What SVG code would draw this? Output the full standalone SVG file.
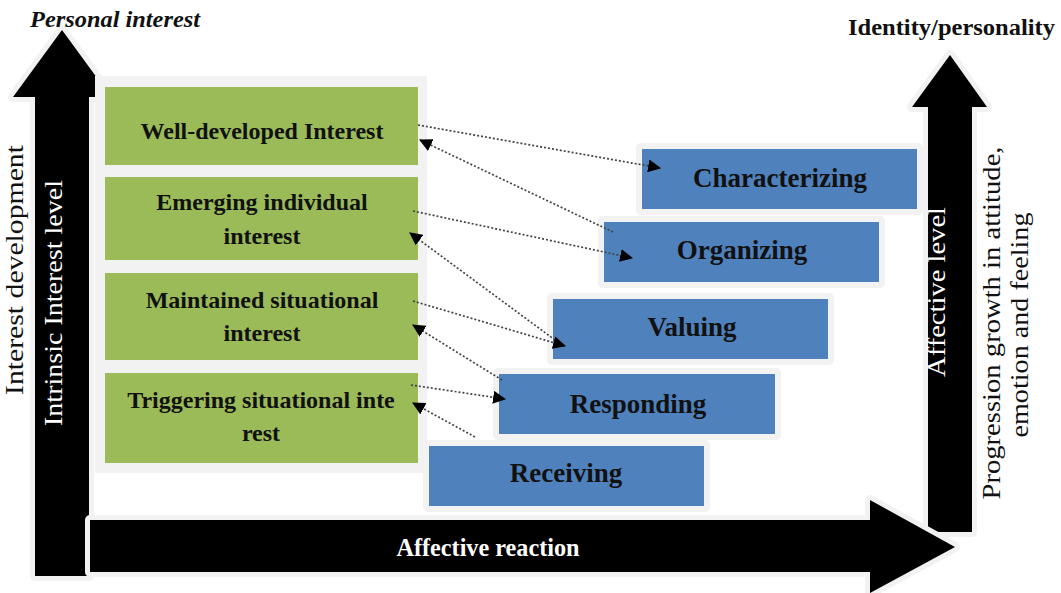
<svg xmlns="http://www.w3.org/2000/svg" width="1061" height="593" viewBox="0 0 1061 593">
<style>
.glow{fill:#f2f2f2;stroke:#f2f2f2;stroke-width:10;stroke-linejoin:round}
.arr{fill:#000}
.green{fill:#9bbb59;stroke:#f2f2f2;stroke-width:2}
.blue{fill:#4f81bd;stroke:#f2f2f2;stroke-width:2}
.gt{font-family:"Liberation Serif","Times New Roman",serif;font-weight:bold;font-size:24px;fill:#111;text-anchor:middle}
.bt{font-family:"Liberation Serif","Times New Roman",serif;font-weight:bold;font-size:27px;fill:#111;text-anchor:middle}
.vt{font-family:"Liberation Serif","Times New Roman",serif;font-size:26px;text-anchor:middle}
.con{fill:none;stroke:#444;stroke-width:1.7;stroke-dasharray:2 2;marker-end:url(#ah)}
</style>
<defs>
<marker id="ah" viewBox="0 0 12 12" refX="11" refY="6" markerWidth="13" markerHeight="13" markerUnits="userSpaceOnUse" orient="auto">
<path d="M0,0 L12,6 L0,12 Z" fill="#000"/>
</marker>
</defs>
<rect width="1061" height="593" fill="#fff"/>

<g id="axis-left">
<polygon class="glow" points="13,97 62,30 111,97 89,97 89,576 35,576 35,97"/>
<polygon class="arr" points="13,97 62,30 111,97 89,97 89,576 35,576 35,97"/>
<text class="vt" fill="#fff" textLength="246" lengthAdjust="spacingAndGlyphs" transform="translate(62,303) rotate(-90)">Intrinsic Interest level</text>
<text class="vt" fill="#111" font-size="28" textLength="250" lengthAdjust="spacingAndGlyphs" transform="translate(23,270) rotate(-90)">Interest development</text>
<text x="30" y="27" font-family="Liberation Serif,serif" font-weight="bold" font-style="italic" font-size="24" fill="#111" textLength="170" lengthAdjust="spacingAndGlyphs">Personal interest</text>
</g>

<g id="axis-right">
<polygon class="glow" points="912,107 950,55 987,107 972,107 972,532 928,532 928,107"/>
<polygon class="arr" points="912,107 950,55 987,107 972,107 972,532 928,532 928,107"/>
<text class="vt" fill="#fff" font-size="25" textLength="170" lengthAdjust="spacingAndGlyphs" transform="translate(945,292) rotate(-90)">Affective level</text>
<text class="vt" fill="#111" textLength="353" lengthAdjust="spacingAndGlyphs" transform="translate(1000,323) rotate(-90)">Progression growth in attitude,</text>
<text class="vt" fill="#111" textLength="225" lengthAdjust="spacingAndGlyphs" transform="translate(1028,325) rotate(-90)">emotion and feeling</text>
<text x="848" y="35" font-family="Liberation Serif,serif" font-weight="bold" font-size="24" fill="#111" textLength="207" lengthAdjust="spacingAndGlyphs">Identity/personality</text>
</g>

<g id="axis-bottom">
<polygon class="glow" points="90,520 870,520 870,500 955,547 870,593 870,572 90,572"/>
<polygon class="arr" points="90,520 870,520 870,500 955,547 870,593 870,572 90,572"/>
<text x="488" y="556" text-anchor="middle" font-family="Liberation Serif,serif" font-weight="bold" font-size="25" fill="#fff" textLength="183" lengthAdjust="spacingAndGlyphs">Affective reaction</text>
</g>

<rect x="95" y="76" width="332" height="397" fill="#f2f2f2"/>

<g id="g1"><rect class="green" x="104" y="86" width="315" height="80"/>
<text class="gt" x="262" y="139">Well-developed Interest</text></g>
<g id="g2"><rect class="green" x="104" y="176" width="315" height="85"/>
<text class="gt" x="262" y="210">Emerging individual</text><text class="gt" x="262" y="244">interest</text></g>
<g id="g3"><rect class="green" x="104" y="272" width="315" height="89"/>
<text class="gt" x="262" y="308">Maintained situational</text><text class="gt" x="262" y="341">interest</text></g>
<g id="g4"><rect class="green" x="104" y="372" width="315" height="92"/>
<text class="gt" x="261" y="408">Triggering situational inte</text><text class="gt" x="261" y="441">rest</text></g>

<g id="b1"><rect class="glow" x="641" y="148" width="277" height="62"/><rect class="blue" x="641" y="148" width="277" height="62"/>
<text class="bt" x="780" y="187">Characterizing</text></g>
<g id="b2"><rect class="glow" x="603" y="221" width="277" height="62"/><rect class="blue" x="603" y="221" width="277" height="62"/>
<text class="bt" x="742" y="259">Organizing</text></g>
<g id="b3"><rect class="glow" x="552" y="298" width="277" height="62"/><rect class="blue" x="552" y="298" width="277" height="62"/>
<text class="bt" x="692" y="336">Valuing</text></g>
<g id="b4"><rect class="glow" x="498" y="373" width="278" height="62"/><rect class="blue" x="498" y="373" width="278" height="62"/>
<text class="bt" x="638" y="413">Responding</text></g>
<g id="b5"><rect class="glow" x="428" y="445" width="277" height="62"/><rect class="blue" x="428" y="445" width="277" height="62"/>
<text class="bt" x="566" y="482">Receiving</text></g>

<g id="connectors">
<line class="con" x1="418" y1="125" x2="660" y2="168"/>
<line class="con" x1="613" y1="232" x2="420" y2="140"/>
<line class="con" x1="413" y1="211" x2="632" y2="258"/>
<line class="con" x1="555" y1="340" x2="410" y2="233"/>
<line class="con" x1="413" y1="301" x2="565" y2="346"/>
<line class="con" x1="502" y1="380" x2="413" y2="325"/>
<line class="con" x1="411" y1="385" x2="505" y2="399"/>
<line class="con" x1="475" y1="437" x2="413" y2="403"/>
</g>
</svg>
